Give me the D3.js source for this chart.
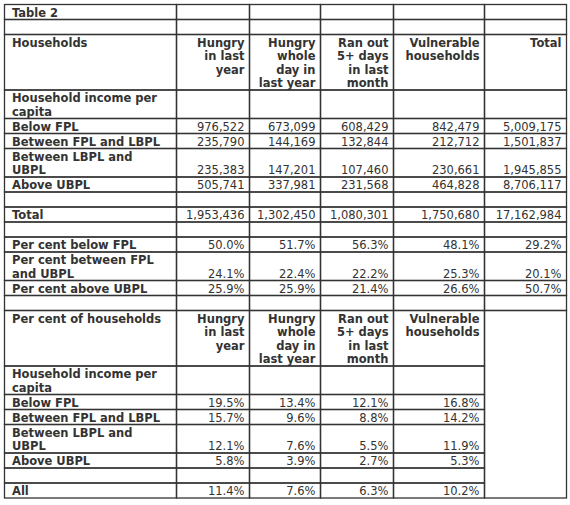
<!DOCTYPE html>
<html><head><meta charset="utf-8">
<script src="https://cdn.jsdelivr.net/npm/d3@7"></script>
<style>
html,body{margin:0;padding:0;background:#fff;}
svg{display:block;}
text{font-family:"DejaVu Sans",sans-serif;font-size:11.5px;fill:#333;}
.b{font-weight:bold;}
</style></head>
<body>
<svg id="chart" width="570" height="505"></svg>
<script>
// ---------- DATA ----------
const title = "Table 2";
const headers = [["Hungry","in last","year"],["Hungry","whole","day in","last year"],["Ran out","5+ days","in last","month"],["Vulnerable","households"],["Total"]];
const incomeGroupLabel = ["Household income per","capita"];
const categories = [["Below FPL"],["Between FPL and LBPL"],["Between LBPL and","UBPL"],["Above UBPL"]];
const hungryLastYear = [976522, 235790, 235383, 505741];
const hungryWholeDay = [673099, 144169, 147201, 337981];
const ranOut5Days   = [608429, 132844, 107460, 231568];
const vulnerable    = [842479, 212712, 230661, 464828];
const totalHouseholds = [5009175, 1501837, 1945855, 8706117];
const totalsRow = [1953436, 1302450, 1080301, 1750680, 17162984];
const pctCategories = [["Per cent below FPL"],["Per cent between FPL","and UBPL"],["Per cent above UBPL"]];
const pctBelowFPL   = [50.0, 51.7, 56.3, 48.1, 29.2];
const pctBetween    = [24.1, 22.4, 22.2, 25.3, 20.1];
const pctAboveUBPL  = [25.9, 25.9, 21.4, 26.6, 50.7];
const pctHouseholdsLabel = "Per cent of households";
const pctHungryLastYear = [19.5, 15.7, 12.1, 5.8];
const pctHungryWholeDay = [13.4, 9.6, 7.6, 3.9];
const pctRanOut         = [12.1, 8.8, 5.5, 2.7];
const pctVulnerable     = [16.8, 14.2, 11.9, 5.3];
const pctAll = [11.4, 7.6, 6.3, 10.2];

// ---------- BUILD TABLE ROWS ----------
const fmtN = d3.format(",");
const fmtP = v => d3.format(".1f")(v) + "%";
const rows = [];
const blank5 = [null,null,null,null,null];
rows.push({label:[title], cells:blank5});
rows.push({label:[""], cells:blank5});
rows.push({label:["Households"], cells:headers, header:true});
rows.push({label:incomeGroupLabel, cells:blank5});
categories.forEach((c,i)=>rows.push({label:c, cells:[hungryLastYear[i],hungryWholeDay[i],ranOut5Days[i],vulnerable[i],totalHouseholds[i]].map(v=>[fmtN(v)])}));
rows.push({label:[""], cells:blank5});
rows.push({label:["Total"], cells:totalsRow.map(v=>[fmtN(v)])});
rows.push({label:[""], cells:blank5});
[pctBelowFPL,pctBetween,pctAboveUBPL].forEach((arr,i)=>rows.push({label:pctCategories[i], cells:arr.map(v=>[fmtP(v)])}));
rows.push({label:[""], cells:blank5});
const mergeStart = rows.length;
rows.push({label:[pctHouseholdsLabel], cells:headers.slice(0,4).concat([null]), header:true, merged:true});
rows.push({label:incomeGroupLabel, cells:[null,null,null,null,null], merged:true});
categories.forEach((c,i)=>rows.push({label:c, cells:[pctHungryLastYear[i],pctHungryWholeDay[i],pctRanOut[i],pctVulnerable[i]].map(v=>[fmtP(v)]).concat([null]), merged:true}));
rows.push({label:[""], cells:blank5, merged:true});
rows.push({label:["All"], cells:pctAll.map(v=>[fmtP(v)]).concat([null]), merged:true});

// ---------- LAYOUT ----------
const baseH = 15, lineH = 13.5;
rows.forEach(r=>{
  r.lines = Math.max(r.label.length, ...r.cells.map(c=>c?c.length:1));
  r.h = baseH + lineH*(r.lines-1);
});
let acc = 4.5;
rows.forEach(r=>{ r.y = acc; acc += r.h; });
const tableBottom = acc;

const colWidths = [172, 73, 71, 73, 91, 82];
const colEdges = [4.5];
colWidths.forEach(w=>colEdges.push(colEdges[colEdges.length-1]+w));
const x = d3.scaleOrdinal().domain(d3.range(6)).range(colEdges.slice(0,6));
const w = i => colEdges[i+1]-colEdges[i];

const svg = d3.select("#chart");
const gridColor = "#333";

// cells
rows.forEach((r,ri)=>{
  const g = svg.append("g");
  for(let ci=0; ci<6; ci++){
    if(ci===5 && r.merged) continue;
    g.append("rect").attr("x",x(ci)).attr("y",r.y).attr("width",w(ci)).attr("height",r.h)
      .attr("fill","none").attr("stroke",gridColor).attr("stroke-width",1.3);
  }
  // label
  const lt = g.append("text").attr("class","b").attr("x",x(0)+7.5);
  r.label.forEach((s,k)=>lt.append("tspan").attr("x",x(0)+7.5).attr("y",r.y+12+k*lineH).text(s));
  r.cells.forEach((c,ci)=>{
    if(!c) return;
    const col = ci+1;
    const t = g.append("text").attr("text-anchor","end").classed("b", !!r.header);
    const offset = r.header ? 0 : (r.lines - c.length);
    c.forEach((s,k)=>t.append("tspan").attr("x",x(col)+w(col)-5).attr("y",r.y+12+(k+offset)*lineH).text(s));
  });
});
// merged total column
const my = rows[mergeStart].y;
svg.append("rect").attr("x",x(5)).attr("y",my).attr("width",w(5)).attr("height",tableBottom-my)
  .attr("fill","none").attr("stroke",gridColor).attr("stroke-width",1.3);
</script>
</body></html>
